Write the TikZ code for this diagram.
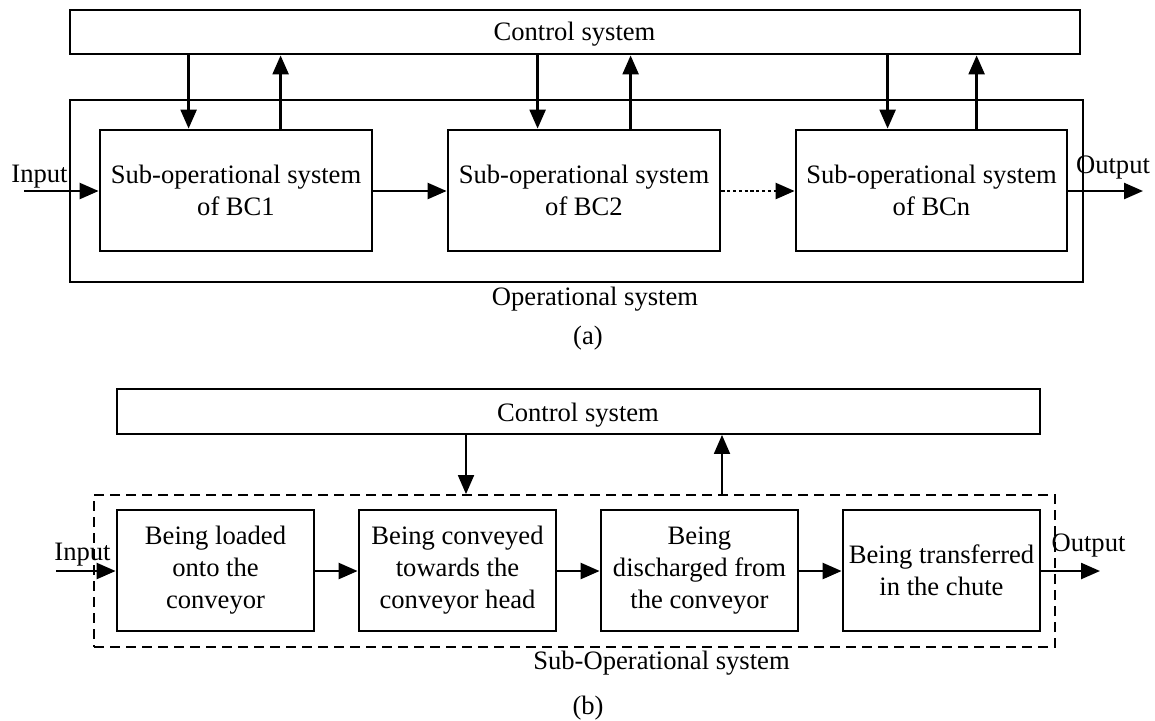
\documentclass[tikz,border=0pt]{standalone}
\usepackage{fontspec}
\setmainfont{Liberation Serif}
\usetikzlibrary{arrows.meta}
\begin{document}
\begin{tikzpicture}[x=0.5pt,y=-0.5pt,
  every node/.style={font=\fontsize{13.3pt}{16pt}\selectfont},
  blk/.style={draw,line width=1.4pt,inner sep=0pt,align=center},
  frame/.style={draw,line width=0.9pt,inner sep=0pt},
  dframe/.style={draw,line width=0.9pt,inner sep=0pt,dash pattern=on 5pt off 3pt},
  arr/.style={line width=1.2pt,-{Triangle[length=9.5pt,width=8pt]}},
  dotarr/.style={line width=1.2pt,dash pattern=on 1.6pt off 1.3pt,-{Triangle[length=9.5pt,width=8pt]}},
  lbl/.style={anchor=base,inner sep=0pt}]
\useasboundingbox (0,0) rectangle (1155,720);
% ---------- (a) ----------
\node[blk,minimum width=505pt,minimum height=22pt] (ctrlA) at (575,32) {};
\node[lbl] (ctrlAt) at (574.5,40) {Control system};
\node[frame,minimum width=506.5pt,minimum height=91pt] (opA) at (576.5,191) {};
\node[blk,minimum width=136pt,minimum height=60.5pt] (bc1) at (236,190.5) {Sub-operational system\\of BC1};
\node[blk,minimum width=136pt,minimum height=60.5pt] (bc2) at (584,190.5) {Sub-operational system\\of BC2};
\node[blk,minimum width=135.5pt,minimum height=60.5pt] (bcn) at (931.5,190.5) {Sub-operational system\\of BCn};
\coordinate (inA) at (24,191);
\coordinate (outA) at (1143,191);
\node[lbl] (inAt) at (39.5,182) {Input};
\node[lbl] (outAt) at (1113,173) {Output};
\node[lbl] (opAt) at (595,305) {Operational system};
\node[lbl] (capA) at (588,344) {(a)};
\draw[arr] (inA) -- (bc1.west |- inA);
\draw[arr] (bc1.east |- inA) -- (bc2.west |- inA);
\draw[dotarr] (bc2.east |- inA) -- (bcn.west |- inA);
\draw[arr] (bcn.east |- outA) -- (outA);
\coordinate (d1) at ([xshift=45pt]bc1.north west);
\coordinate (u1) at ([xshift=91pt]bc1.north west);
\coordinate (d2) at ([xshift=45.5pt]bc2.north west);
\coordinate (u2) at ([xshift=92pt]bc2.north west);
\coordinate (d3) at ([xshift=46.5pt]bcn.north west);
\coordinate (u3) at ([xshift=91pt]bcn.north west);
\draw[arr] (d1 |- ctrlA.south) -- (d1);
\draw[arr] (u1) -- (u1 |- ctrlA.south);
\draw[arr] (d2 |- ctrlA.south) -- (d2);
\draw[arr] (u2) -- (u2 |- ctrlA.south);
\draw[arr] (d3 |- ctrlA.south) -- (d3);
\draw[arr] (u3) -- (u3 |- ctrlA.south);
% ---------- (b) ----------
\node[frame,minimum width=461.5pt,minimum height=22.5pt] (ctrlB) at (578.5,411.5) {};
\node[lbl] (ctrlBt) at (578,421) {Control system};
\node[dframe,minimum width=480.5pt,minimum height=76pt] (subB) at (574.5,571) {};
\node[blk,minimum width=98.5pt,minimum height=60.5pt] (s1) at (215.5,570.5) {Being loaded\\onto the\\conveyor};
\node[blk,minimum width=98.5pt,minimum height=60.5pt] (s2) at (457.5,570.5) {Being conveyed\\towards the\\conveyor head};
\node[blk,minimum width=98.5pt,minimum height=60.5pt] (s3) at (699.5,570.5) {Being\\discharged from\\the conveyor};
\node[blk,minimum width=98.5pt,minimum height=60.5pt] (s4) at (941.5,570.5) {Being transferred\\in the chute};
\coordinate (inB) at (56,571);
\coordinate (outB) at (1100,571);
\node[lbl] (inBt) at (82.5,560) {Input};
\node[lbl] (outBt) at (1088.5,551) {Output};
\node[lbl] (subBt) at (661.5,669) {Sub-Operational system};
\node[lbl] (capB) at (588,714) {(b)};
\draw[arr] (inB) -- (s1.west |- inB);
\draw[arr] (s1.east |- inB) -- (s2.west |- inB);
\draw[arr] (s2.east |- inB) -- (s3.west |- inB);
\draw[arr] (s3.east |- inB) -- (s4.west |- inB);
\draw[arr] (s4.east |- outB) -- (outB);
\coordinate (dB) at ([xshift=-54.25pt]subB.north);
\coordinate (uB) at ([xshift=73.75pt]subB.north);
\draw[arr,line width=0.9pt] (dB |- ctrlB.south) -- (dB);
\draw[arr,line width=0.9pt] (uB) -- (uB |- ctrlB.south);
\end{tikzpicture}
\end{document}
